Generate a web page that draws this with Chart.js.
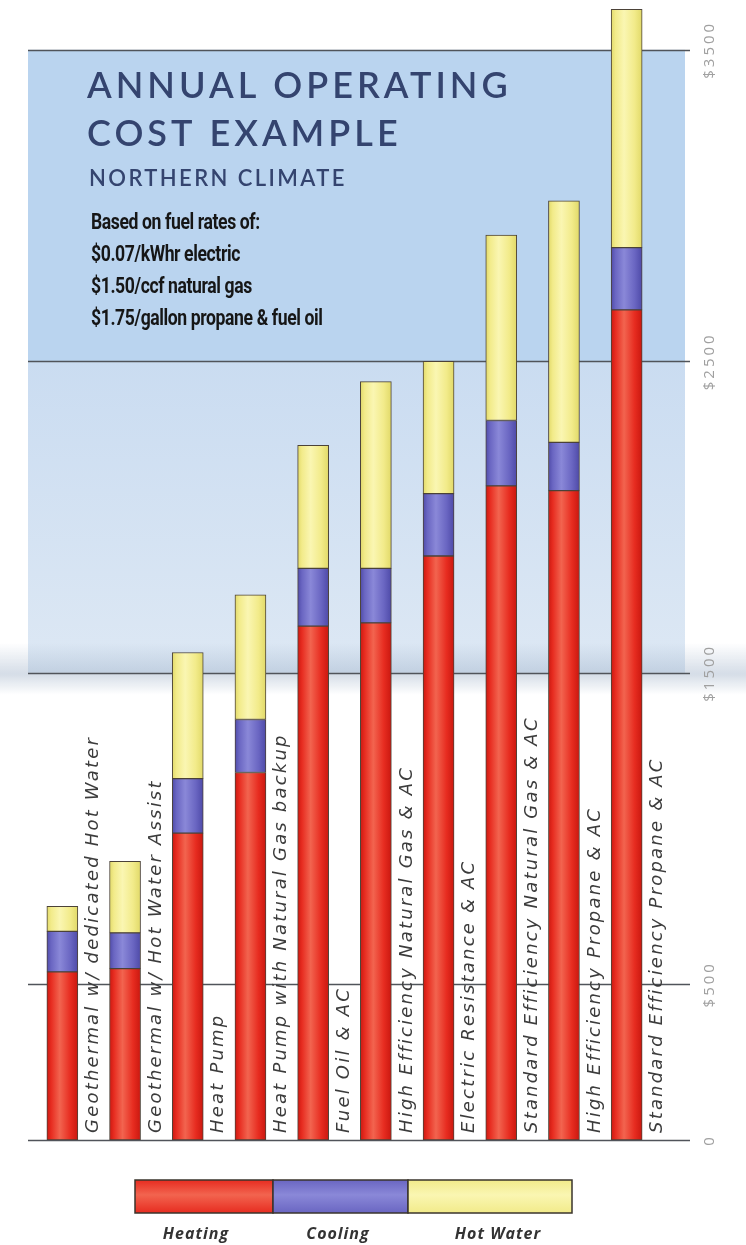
<!DOCTYPE html>
<html>
	<head>
		<meta charset="UTF-8" />
		<title>Annual Operating Cost Example</title>
		<script src="https://cdn.jsdelivr.net/npm/chart.js@4.4.1/dist/chart.umd.min.js"></script>
		<style>
			body{
				margin: 0;
				background-color: #ffffff;
			}
			.chart{
				width: 746px;
				height: 1245px;
			}
		</style>
	</head>
	<body>
		<div class="chart">
			<canvas id="costChart" width="746" height="1245"></canvas>
		</div>

		<script>
			//systems (one bar each)
			var systems = [
				'Geothermal w/ dedicated Hot Water',
				'Geothermal w/ Hot Water Assist',
				'Heat Pump',
				'Heat Pump with Natural Gas backup',
				'Fuel Oil & AC',
				'High Efficiency Natural Gas & AC',
				'Electric Resistance & AC',
				'Standard Efficiency Natural Gas & AC',
				'High Efficiency Propane & AC',
				'Standard Efficiency Propane & AC'
			];

			//annual cost in $
			var heating  = [540, 550, 985, 1180, 1650, 1660, 1875, 2100, 2085, 2665];
			var cooling  = [130, 115, 175, 170, 185, 175, 200, 210, 155, 200];
			var hotWater = [80, 230, 405, 400, 395, 600, 425, 595, 775, 765];

			var seriesNames = ['Heating', 'Cooling', 'Hot Water'];
			var tickValues = [0, 500, 1500, 2500, 3500];

			var titleLines = ['ANNUAL OPERATING', 'COST EXAMPLE'];
			var subTitle = 'NORTHERN CLIMATE';
			var noteLines = [
				'Based on fuel rates of:',
				'$0.07/kWhr electric',
				'$1.50/ccf natural gas',
				'$1.75/gallon propane & fuel oil'
			];

			//colours: edge, highlight, middle
			var redShade    = ['#c8160e', '#f2644f', '#e72c20'];
			var blueShade   = ['#4c48a6', '#8a88d8', '#6a66c2'];
			var yellowShade = ['#e0d866', '#faf6b2', '#f2eb8a'];

			//cylinder-like shading across each bar
			function barFill(shade) {
				return function (ctx) {
					var chart = ctx.chart;
					var xs = chart.scales.x;
					if (ctx.type !== 'data' || !xs) return shade[2];
					var cx = xs.getPixelForValue(ctx.dataIndex);
					if (!isFinite(cx)) return shade[2];
					var g = chart.ctx.createLinearGradient(cx - 16, 0, cx + 16, 0);
					g.addColorStop(0, shade[0]);
					g.addColorStop(0.15, shade[2]);
					g.addColorStop(0.42, shade[1]);
					g.addColorStop(0.75, shade[2]);
					g.addColorStop(1, shade[0]);
					return g;
				};
			}

			//blue panel, grid lines, title text
			var panelPlugin = {
				id: 'panel',
				beforeDatasetsDraw: function (chart) {
					var ctx = chart.ctx;
					var y = chart.scales.y;
					var y3500 = y.getPixelForValue(3500);
					var y2500 = y.getPixelForValue(2500);
					var y1500 = y.getPixelForValue(1500);
					ctx.save();

					ctx.fillStyle = '#bad4ef';
					ctx.fillRect(28, y3500, 657, y2500 - y3500);

					var g = ctx.createLinearGradient(0, y2500, 0, y1500);
					g.addColorStop(0, '#cadcf1');
					g.addColorStop(1, '#dde8f4');
					ctx.fillStyle = g;
					ctx.fillRect(28, y2500, 657, y1500 - y2500);

					//fold shadow round the $1500 line
					var s = ctx.createLinearGradient(0, y1500 - 30, 0, y1500 + 22);
					s.addColorStop(0, 'rgba(150,170,195,0)');
					s.addColorStop(0.6, 'rgba(150,170,195,0.4)');
					s.addColorStop(1, 'rgba(150,170,195,0)');
					ctx.fillStyle = s;
					ctx.fillRect(0, y1500 - 30, 746, 52);

					//grid lines
					ctx.strokeStyle = '#50545a';
					ctx.lineWidth = 1.5;
					y.ticks.forEach(function (t) {
						var py = Math.round(y.getPixelForValue(t.value)) + 0.5;
						ctx.beginPath();
						ctx.moveTo(28, py);
						ctx.lineTo(690, py);
						ctx.stroke();
					});

					//title
					ctx.fillStyle = '#34446f';
					ctx.textAlign = 'left';
					ctx.textBaseline = 'alphabetic';
					ctx.font = '600 36px Lato';
					ctx.letterSpacing = '4px';
					ctx.fillText(titleLines[0], 87, 98);
					ctx.fillText(titleLines[1], 87, 146);
					ctx.font = '600 22px Lato';
					ctx.letterSpacing = '2.4px';
					ctx.fillText(subTitle, 89, 186);

					//fuel rate notes, condensed
					ctx.fillStyle = '#161616';
					ctx.font = '700 22px Roboto';
					ctx.letterSpacing = '-0.5px';
					noteLines.forEach(function (line, i) {
						ctx.save();
						ctx.translate(91, 229 + i * 32);
						ctx.scale(0.8, 1);
						ctx.fillText(line, 0, 0);
						ctx.restore();
					});
					ctx.restore();
				},
				afterDatasetsDraw: function (chart) {
					var ctx = chart.ctx;
					var xs = chart.scales.x;
					var y = chart.scales.y;
					var base = y.getPixelForValue(0);
					ctx.save();

					//system names, rotated, right of each bar
					ctx.fillStyle = '#3c3c3c';
					ctx.font = 'italic 18px "DejaVu Sans"';
					ctx.letterSpacing = '2.2px';
					ctx.textAlign = 'left';
					ctx.textBaseline = 'middle';
					chart.data.labels.forEach(function (label, i) {
						ctx.save();
						ctx.translate(xs.getPixelForValue(i) + 31, base - 7);
						ctx.rotate(-Math.PI / 2);
						ctx.fillText(label, 0, 0);
						ctx.restore();
					});

					//$ ticks on the right, rotated
					ctx.fillStyle = '#a0a0a0';
					ctx.font = '15px "Open Sans"';
					ctx.letterSpacing = '3px';
					ctx.textAlign = 'center';
					y.ticks.forEach(function (t) {
						ctx.save();
						ctx.translate(710, y.getPixelForValue(t.value));
						ctx.rotate(-Math.PI / 2);
						ctx.fillText(t.value === 0 ? '0' : '$' + t.value, 0, 0);
						ctx.restore();
					});

					//legend strip at the bottom
					var edges = [135, 273, 408, 572];
					var centres = [196, 338, 498];
					var shades = [redShade, blueShade, yellowShade];
					chart.data.datasets.forEach(function (ds, i) {
						var g = ctx.createLinearGradient(0, 1180, 0, 1213);
						g.addColorStop(0, shades[i][2]);
						g.addColorStop(0.45, shades[i][1]);
						g.addColorStop(1, shades[i][2]);
						ctx.fillStyle = g;
						ctx.fillRect(edges[i], 1180, edges[i + 1] - edges[i], 33);
						ctx.strokeStyle = '#3a342c';
						ctx.lineWidth = 1.5;
						ctx.strokeRect(edges[i], 1180, edges[i + 1] - edges[i], 33);
						ctx.fillStyle = '#333333';
						ctx.font = 'italic bold 16px "Open Sans"';
						ctx.letterSpacing = '1px';
						ctx.textAlign = 'center';
						ctx.fillText(ds.label, centres[i], 1234);
					});
					ctx.restore();
				}
			};

			var costCanvas = document.getElementById('costChart');
			var costChart = new Chart(costCanvas, {
				type: 'bar',
				data: {
					labels: systems,
					datasets: [
						{ label: seriesNames[0], data: heating,  backgroundColor: barFill(redShade) },
						{ label: seriesNames[1], data: cooling,  backgroundColor: barFill(blueShade) },
						{ label: seriesNames[2], data: hotWater, backgroundColor: barFill(yellowShade) }
					]
				},
				options: {
					responsive: false,
					animation: false,
					layout: { padding: { left: 31, right: 88, top: 0, bottom: 105 } },
					datasets: {
						bar: {
							barThickness: 31,
							borderColor: '#4b4238',
							borderWidth: 1,
							borderSkipped: false
						}
					},
					scales: {
						x: { stacked: true, display: false },
						y: {
							stacked: true,
							display: false,
							min: 0,
							max: 3660,
							afterBuildTicks: function (scale) {
								scale.ticks = tickValues.map(function (v) { return { value: v }; });
							}
						}
					},
					plugins: {
						legend: { display: false },
						tooltip: { enabled: false }
					}
				},
				plugins: [panelPlugin]
			});
		</script>
	</body>
</html>
